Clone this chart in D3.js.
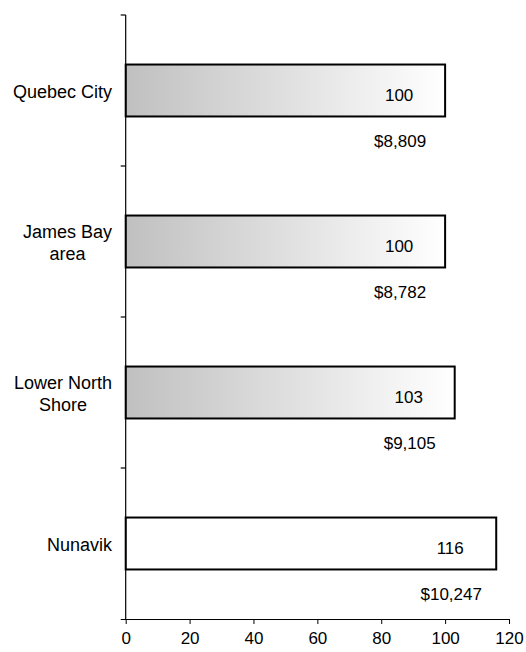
<!DOCTYPE html>
<html>
<head>
<meta charset="utf-8">
<script src="https://cdn.jsdelivr.net/npm/d3@7"></script>
<style>
  html, body { margin: 0; padding: 0; background: #fff; }
  svg { display: block; }
  text { font-family: "Liberation Sans", Arial, sans-serif; font-size: 17px; fill: #000; }
</style>
</head>
<body>
<svg id="chart" width="526" height="652"></svg>
<script>
const categories = [["Quebec City"], ["James Bay", "area"], ["Lower North", "Shore"], ["Nunavik"]];
const indexValues = [100, 100, 103, 116];
const costValues = [8809, 8782, 9105, 10247];
const xTicks = [0, 20, 40, 60, 80, 100, 120];

(function () {
const svg = d3.select("#chart");
const mLeft = 125.7, mRight = 509, mTop = 15, mBottom = 619;

const x = d3.scaleLinear().domain([0, 120]).range([mLeft, mRight]);
const y = d3.scaleBand().domain(d3.range(categories.length)).range([mTop, mBottom])
  .paddingInner(0.656).paddingOuter(0.328);

const defs = svg.append("defs");
const grad = defs.append("linearGradient").attr("id", "barGrad")
  .attr("x1", "0%").attr("x2", "100%").attr("y1", "0%").attr("y2", "0%");
grad.append("stop").attr("offset", "0%").attr("stop-color", "#c0c0c0");
grad.append("stop").attr("offset", "100%").attr("stop-color", "#ffffff");

const data = categories.map((c, i) => ({ i, lines: c, v: indexValues[i], cost: costValues[i] }));

// bars
svg.append("g").selectAll("rect").data(data).join("rect")
  .attr("x", x(0))
  .attr("y", d => y(d.i))
  .attr("width", d => x(d.v) - x(0))
  .attr("height", y.bandwidth())
  .attr("fill", d => d.lines[0] === "Nunavik" ? "#ffffff" : "url(#barGrad)")
  .attr("stroke", "#000")
  .attr("stroke-width", 2);

// value labels inside bars
svg.append("g").selectAll("text").data(data).join("text")
  .attr("x", d => x(d.v) - 46)
  .attr("y", d => y(d.i) + y.bandwidth() / 2 + 5)
  .attr("text-anchor", "middle")
  .attr("dominant-baseline", "central")
  .text(d => d.v);

// cost labels below bars
const fmt = d3.format("$,");
svg.append("g").selectAll("text").data(data).join("text")
  .attr("x", d => x(d.v) - 45)
  .attr("y", d => y(d.i) + y.bandwidth() / 2 + 51)
  .attr("text-anchor", "middle")
  .attr("dominant-baseline", "central")
  .text(d => fmt(d.cost));

// x axis
const xAxis = d3.axisBottom(x).tickValues(xTicks).tickSize(5).tickSizeOuter(0).tickPadding(8);
const gx = svg.append("g").attr("transform", `translate(0,${mBottom})`).call(xAxis);
gx.select(".domain").attr("stroke", "#000").attr("stroke-width", 1.2).attr("d", `M${x(0) - 5},0.5H${x(120)}`);
gx.selectAll(".tick line").attr("stroke", "#000");
gx.selectAll(".tick text").style("font-size", "17px").style("font-family", "'Liberation Sans', Arial, sans-serif").attr("fill", "#000");

// y axis line and boundary ticks
const yEdges = d3.range(categories.length).map(i => y(i) - y.step() * y.paddingOuter());
const gy = svg.append("g");
gy.append("line").attr("x1", mLeft).attr("x2", mLeft).attr("y1", mTop).attr("y2", mBottom)
  .attr("stroke", "#000").attr("stroke-width", 1.2);
gy.selectAll("line.tk").data(yEdges).join("line").attr("class", "tk")
  .attr("x1", mLeft - 5).attr("x2", mLeft).attr("y1", d => d).attr("y2", d => d)
  .attr("stroke", "#000").attr("stroke-width", 1.2);

// category labels: block right-aligned at 112, lines centered
const lineH = 22;
data.forEach(d => {
  const g = svg.append("g");
  const cy = y(d.i) + y.bandwidth() / 2;
  const texts = d.lines.map((ln, k) => g.append("text")
    .style("font-size", "18px")
    .attr("text-anchor", "middle")
    .attr("dominant-baseline", "central")
    .attr("y", cy + (k - (d.lines.length - 1) / 2) * lineH + 1)
    .text(ln));
  const maxW = d3.max(texts, t => t.node().getComputedTextLength());
  texts.forEach(t => t.attr("x", 112 - maxW / 2));
});
})();
</script>
</body>
</html>
